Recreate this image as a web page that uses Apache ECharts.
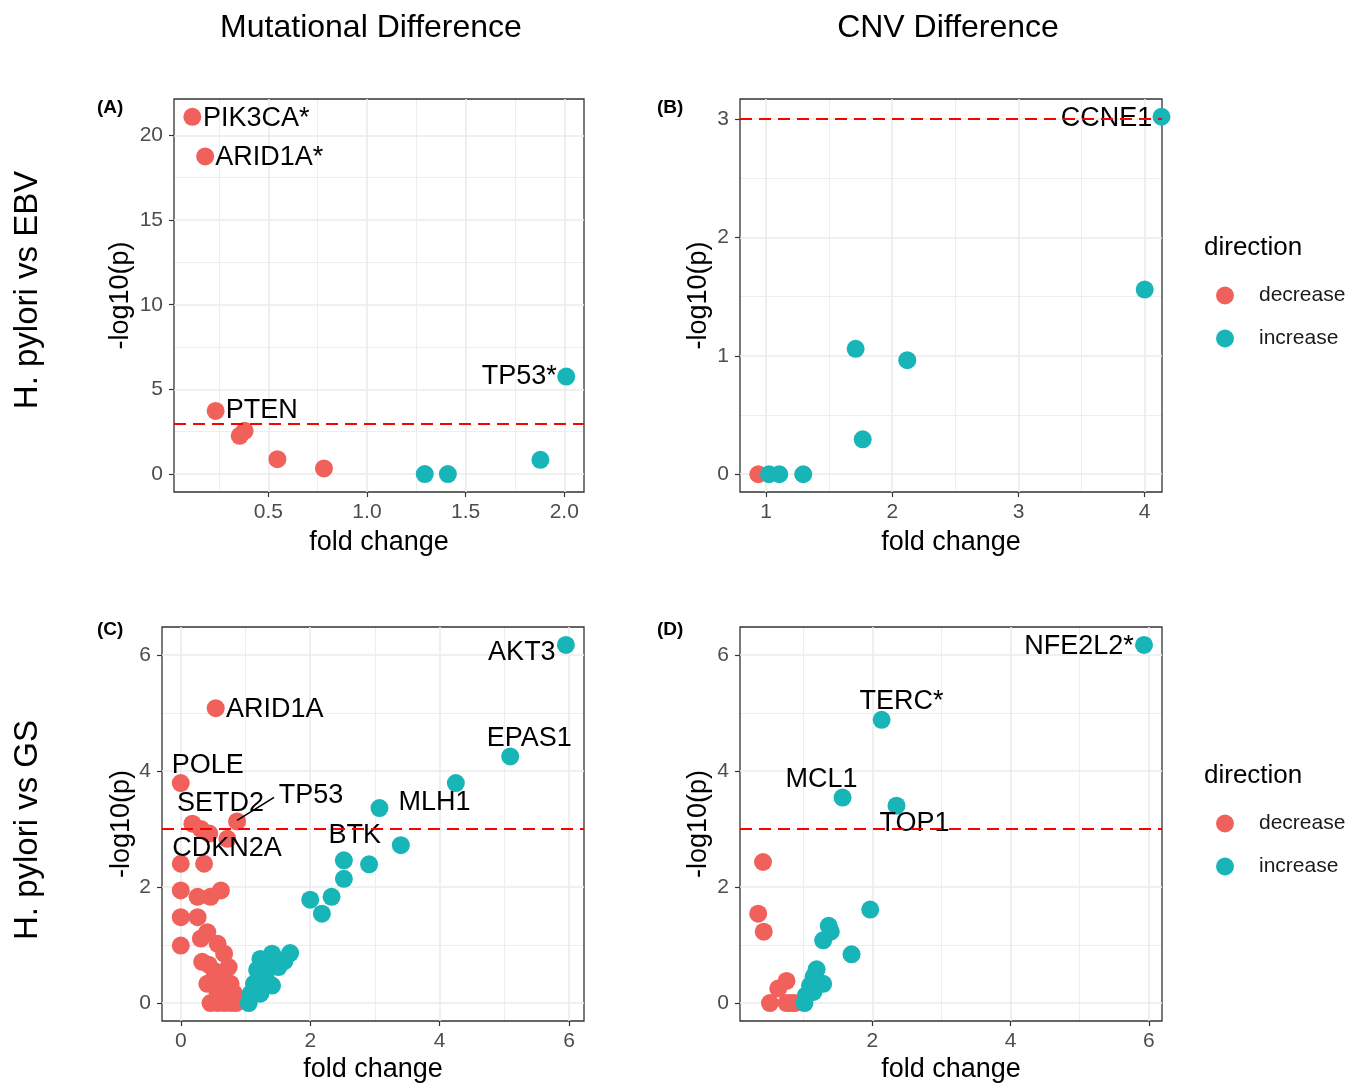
<!DOCTYPE html>
<html>
<head>
<meta charset="utf-8">
<title>H. pylori: mutational and CNV differences</title>
<script src="https://cdn.jsdelivr.net/npm/echarts@6/dist/echarts.min.js"></script>
<style>
  html, body { margin: 0; padding: 0; background: #fff; }
  #chart { width: 1349px; height: 1084px; }
</style>
</head>
<body>
<div id="chart"></div>
<script>
// fold change (x) and -log10(p) (y)
const directions = ['decrease', 'increase'];
const threshold = 3;

// (A) mutational difference, H. pylori vs EBV
const aDecFold = [0.115, 0.18, 0.233, 0.355, 0.38, 0.546, 0.782];
const aDecLogP = [21.1, 18.76, 3.73, 2.26, 2.55, 0.88, 0.33];
const aDecGene = ['PIK3CA*', 'ARID1A*', 'PTEN'];
const aIncFold = [2.01, 1.293, 1.41, 1.879];
const aIncLogP = [5.76, 0, 0, 0.84];
const aIncGene = ['TP53*'];

// (B) CNV difference, H. pylori vs EBV
const bDecFold = [0.939];
const bDecLogP = [0];
const bDecGene = [];
const bIncFold = [4.133, 1.024, 1.105, 1.295, 1.71, 2.119, 1.766, 4.0];
const bIncLogP = [3.02, 0, 0, 0, 1.06, 0.964, 0.295, 1.56];
const bIncGene = ['CCNE1'];

// (C) mutational difference, H. pylori vs GS
const cDecFold = [0.54, 0.00, 0.87, 0.18, 0.31, 0.44, 0.72, 0.36, 0.00, 0.00,
                  0.26, 0.46, 0.62, 0.00, 0.26, 0.41, 0.31, 0.00, 0.57, 0.67,
                  0.33, 0.43, 0.74, 0.52, 0.41, 0.77, 0.50, 0.62, 0.46, 0.57,
                  0.67, 0.77, 0.85, 0.90, 0.57, 0.82, 0.70];
const cDecLogP = [5.08, 3.79, 3.13, 3.09, 3.00, 2.92, 2.83, 2.40, 2.40, 1.94,
                  1.83, 1.83, 1.94, 1.48, 1.48, 1.22, 1.11, 0.99, 1.02, 0.85,
                  0.71, 0.66, 0.62, 0.55, 0.33, 0.33, 0.40, 0.45, 0.00, 0.00,
                  0.00, 0.00, 0.00, 0.07, 0.17, 0.17, 0.20];
const cDecGene = ['ARID1A', 'POLE', 'TP53', 'SETD2', '', '', '', 'CDKN2A'];
const cIncFold = [5.95, 5.09, 4.25, 3.07, 3.40, 2.52, 2.91, 2.52, 2.00, 2.33,
                  2.18, 1.69, 1.41, 1.23, 1.51, 1.31, 1.41, 1.13, 1.08, 1.05,
                  1.23, 1.18, 1.35, 1.60, 1.45, 1.28, 1.20, 1.15];
const cIncLogP = [6.17, 4.25, 3.79, 3.36, 2.72, 2.46, 2.39, 2.14, 1.78, 1.83,
                  1.54, 0.86, 0.85, 0.76, 0.62, 0.45, 0.30, 0.33, 0.16, 0.00,
                  0.16, 0.57, 0.70, 0.72, 0.78, 0.60, 0.45, 0.25];
const cIncGene = ['AKT3', 'EPAS1', '', 'MLH1', 'BTK'];

// (D) CNV difference, H. pylori vs GS
const dDecFold = [0.42, 0.35, 0.43, 0.52, 0.76, 0.64, 0.76, 0.88, 0.82];
const dDecLogP = [2.43, 1.54, 1.23, 0.00, 0.38, 0.25, 0.00, 0.00, 0.00];
const dDecGene = [];
const dIncFold = [5.93, 2.135, 1.57, 2.35, 1.97, 1.70, 1.37, 1.40, 1.29, 1.195,
                  1.15, 1.29, 1.10, 1.15, 1.04, 1.02];
const dIncLogP = [6.17, 4.88, 3.54, 3.40, 1.61, 0.84, 1.33, 1.23, 1.08, 0.58,
                  0.45, 0.33, 0.30, 0.19, 0.13, 0.00];
const dIncGene = ['NFE2L2*', 'TERC*', 'MCL1', 'TOP1'];

const colTitles = ['Mutational Difference', 'CNV Difference'];
const rowTitles = ['H. pylori vs EBV', 'H. pylori vs GS'];

// ---- layout / style ----
const FONT = '"Liberation Sans", Arial, sans-serif';
const COLORS = { decrease: '#F1615B', increase: '#17B4B8' };

const panels = [
  { key: 'A', dec: [aDecFold, aDecLogP, aDecGene], inc: [aIncFold, aIncLogP, aIncGene],
    x: [0.022, 2.10, 0.5], y: [-1.06, 22.15, 5],
    grid: { left: 174, top: 99, width: 410, height: 393 }, yGap: 40, xGap: 37 },
  { key: 'B', dec: [bDecFold, bDecLogP, bDecGene], inc: [bIncFold, bIncLogP, bIncGene],
    x: [0.794, 4.137, 1], y: [-0.15, 3.17, 1],
    grid: { left: 740, top: 99, width: 422, height: 393 }, yGap: 28, xGap: 37 },
  { key: 'C', dec: [cDecFold, cDecLogP, cDecGene], inc: [cIncFold, cIncLogP, cIncGene],
    x: [-0.29, 6.23, 2], y: [-0.31, 6.48, 2],
    grid: { left: 162, top: 627, width: 422, height: 394 }, yGap: 27, xGap: 35 },
  { key: 'D', dec: [dDecFold, dDecLogP, dDecGene], inc: [dIncFold, dIncLogP, dIncGene],
    x: [0.087, 6.19, 2], y: [-0.31, 6.48, 2],
    grid: { left: 740, top: 627, width: 422, height: 394 }, yGap: 28, xGap: 35 }
];

// label offsets (px) from the point centre, ggrepel-like placement
const labelOffsets = {
  'A:PIK3CA*': [64, 2], 'A:ARID1A*': [64, 1], 'A:PTEN': [46, 0], 'A:TP53*': [-47, 0],
  'B:CCNE1': [-55, 2],
  'C:AKT3': [-44, 8], 'C:ARID1A': [59, 1], 'C:EPAS1': [19, -18], 'C:POLE': [27, -18],
  'C:SETD2': [28, -20], 'C:TP53': [74, -26], 'C:CDKN2A': [23, -15],
  'C:MLH1': [55, -5], 'C:BTK': [-46, -10],
  'D:NFE2L2*': [-65, 2], 'D:TERC*': [20, -18], 'D:MCL1': [-21, -18], 'D:TOP1': [18, 18]
};

function tickValues(min, max, step, shift) {
  const out = [];
  let v = Math.ceil((min - shift) / step) * step + shift;
  for (; v <= max + 1e-9; v += step) out.push(+v.toFixed(6));
  return out;
}

const grids = [], xAxes = [], yAxes = [], series = [];

panels.forEach((p, i) => {
  grids.push(Object.assign({
    show: true, borderColor: '#333333', borderWidth: 1.3, backgroundColor: 'transparent'
  }, p.grid));

  const fmt = step => v => (step < 1 ? v.toFixed(1) : String(v));

  // major axis (carries the data)
  xAxes.push({
    gridIndex: i, type: 'value', min: p.x[0], max: p.x[1], position: 'bottom',
    name: 'fold change', nameLocation: 'middle', nameGap: p.xGap,
    nameTextStyle: { fontSize: 27, color: '#000', fontFamily: FONT },
    axisLine: { show: false, onZero: false },
    axisTick: { show: true, length: 5, lineStyle: { color: '#333', width: 1.2 },
                customValues: tickValues(p.x[0], p.x[1], p.x[2], 0) },
    axisLabel: { fontSize: 21, color: '#4D4D4D', margin: 10, fontFamily: FONT,
                 customValues: tickValues(p.x[0], p.x[1], p.x[2], 0), formatter: fmt(p.x[2]) },
    splitLine: { show: true, lineStyle: { color: '#EBEBEB', width: 1.6 } }
  });
  yAxes.push({
    gridIndex: i, type: 'value', min: p.y[0], max: p.y[1], position: 'left',
    name: '-log10(p)', nameLocation: 'middle', nameGap: p.yGap, nameRotate: 90,
    nameTextStyle: { fontSize: 27, color: '#000', fontFamily: FONT },
    axisLine: { show: false, onZero: false },
    axisTick: { show: true, length: 5, lineStyle: { color: '#333', width: 1.2 },
                customValues: tickValues(p.y[0], p.y[1], p.y[2], 0) },
    axisLabel: { fontSize: 21, color: '#4D4D4D', margin: 11, fontFamily: FONT,
                 customValues: tickValues(p.y[0], p.y[1], p.y[2], 0) },
    splitLine: { show: true, lineStyle: { color: '#EBEBEB', width: 1.6 } }
  });
  // minor grid lines
  xAxes.push({
    gridIndex: i, type: 'value', min: p.x[0], max: p.x[1], z: -1, position: 'top',
    axisLine: { show: false, onZero: false }, axisLabel: { show: false },
    axisTick: { show: false, customValues: tickValues(p.x[0], p.x[1], p.x[2], p.x[2] / 2) },
    splitLine: { show: true, lineStyle: { color: '#EEEEEE', width: 1 } }
  });
  yAxes.push({
    gridIndex: i, type: 'value', min: p.y[0], max: p.y[1], z: -1, position: 'right',
    axisLine: { show: false, onZero: false }, axisLabel: { show: false },
    axisTick: { show: false, customValues: tickValues(p.y[0], p.y[1], p.y[2], p.y[2] / 2) },
    splitLine: { show: true, lineStyle: { color: '#EEEEEE', width: 1 } }
  });

  directions.forEach((dir, d) => {
    const [fold, logp, genes] = d === 0 ? p.dec : p.inc;
    series.push({
      type: 'scatter', name: dir,
      xAxisIndex: i * 2, yAxisIndex: i * 2,
      symbolSize: 18,
      itemStyle: { color: COLORS[dir], opacity: 1 },
      emphasis: { disabled: true },
      z: 3,
      data: fold.map((x, k) => {
        const item = { value: [x, logp[k]] };
        const g = genes[k];
        if (g) {
          item.name = g;
          item.label = {
            show: true, position: 'inside', formatter: g,
            offset: labelOffsets[p.key + ':' + g] || [0, 0],
            color: '#000', fontSize: 27, fontFamily: FONT,
            textBorderWidth: 0
          };
        }
        return item;
      }),
      markLine: d === 0 ? {
        silent: true, symbol: 'none', label: { show: false },
        lineStyle: { color: '#FF0000', type: [12, 7], width: 2 },
        data: [{ yAxis: threshold }]
      } : undefined
    });
  });
});

const graphics = [];
colTitles.forEach((t, c) => {
  graphics.push({ type: 'text', x: [371, 948][c], y: 28,
    style: { text: t, fontSize: 32, fontFamily: FONT, fill: '#000', align: 'center', verticalAlign: 'middle' } });
});
rowTitles.forEach((t, r) => {
  graphics.push({ type: 'text', x: 28, y: [290, 830][r], rotation: Math.PI / 2,
    style: { text: t, fontSize: 33, fontFamily: FONT, fill: '#000', align: 'center', verticalAlign: 'middle' } });
});
[['(A)', 97, 108], ['(B)', 657, 108], ['(C)', 97, 630], ['(D)', 657, 630]].forEach(([t, x, y]) => {
  graphics.push({ type: 'text', x, y,
    style: { text: t, fontSize: 19, fontWeight: 'bold', fontFamily: FONT, fill: '#000', verticalAlign: 'middle' } });
});
[248, 776].forEach(y => {
  graphics.push({ type: 'text', x: 1204, y,
    style: { text: 'direction', fontSize: 26, fontFamily: FONT, fill: '#000', verticalAlign: 'middle' } });
});

const legendBase = {
  orient: 'vertical', left: 1211, icon: 'circle',
  itemWidth: 58, itemHeight: 18, itemGap: 22,
  data: directions, selectedMode: false,
  textStyle: { fontSize: 21, color: '#1A1A1A', fontFamily: FONT, lineHeight: 18 }
};

const option = {
  animation: false,
  backgroundColor: '#fff',
  textStyle: { fontFamily: FONT },
  grid: grids,
  xAxis: xAxes,
  yAxis: yAxes,
  legend: [
    Object.assign({ top: 280 }, legendBase),
    Object.assign({ top: 808 }, legendBase)
  ],
  graphic: graphics,
  series
};

const chart = echarts.init(document.getElementById('chart'), null, { renderer: 'canvas' });
chart.setOption(option);

// leader segment for the TP53 label in panel C
const tp53 = chart.convertToPixel({ xAxisIndex: 4, yAxisIndex: 4 }, [cDecFold[2], cDecLogP[2]]);
graphics.push({ type: 'line', z: 10,
  shape: { x1: tp53[0], y1: tp53[1] - 1, x2: tp53[0] + 37, y2: tp53[1] - 24 },
  style: { stroke: '#000', lineWidth: 1.6 } });
chart.setOption({ graphic: graphics });
</script>
</body>
</html>
